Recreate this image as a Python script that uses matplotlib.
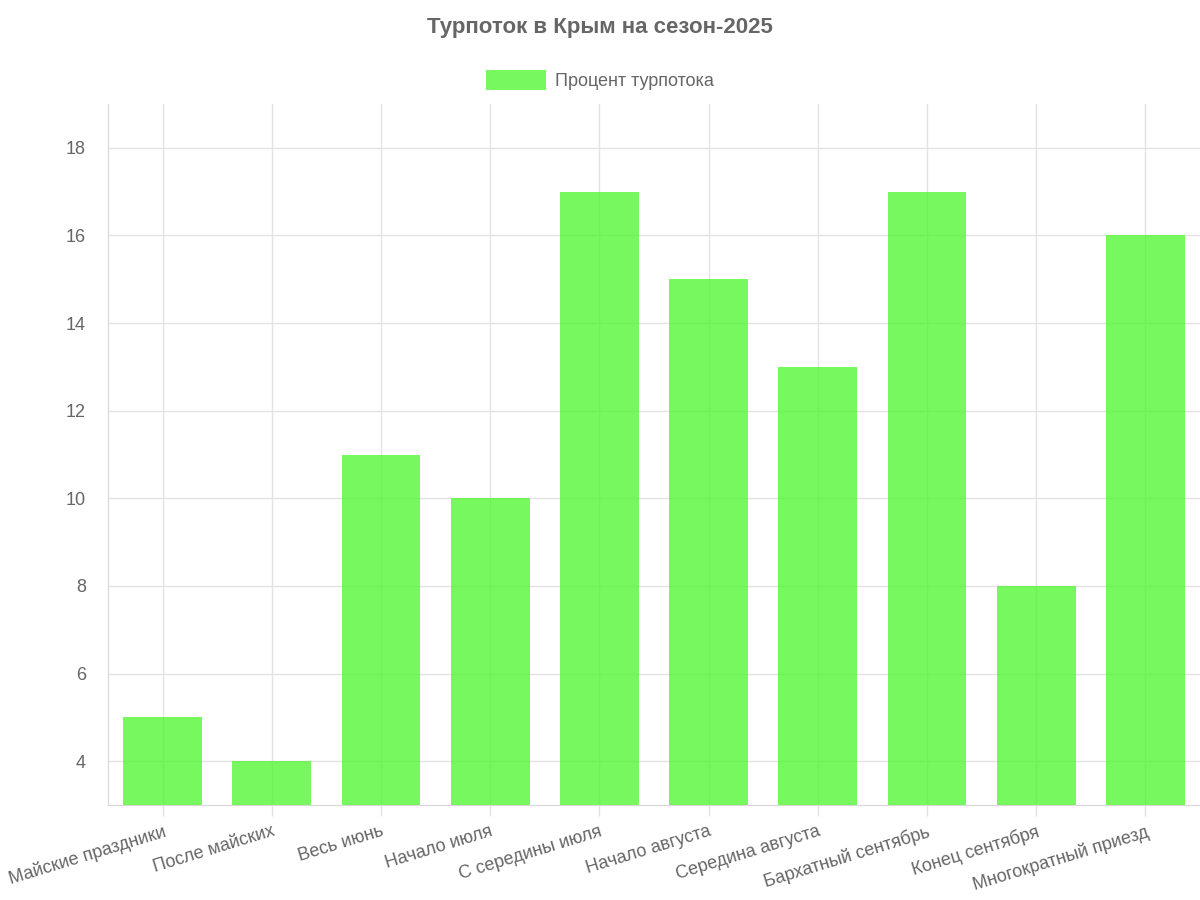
import matplotlib
matplotlib.use("Agg")
import matplotlib.pyplot as plt
from matplotlib.patches import Patch

plt.rcParams['font.family'] = ['Liberation Sans', 'DejaVu Sans']

categories = ["Майские праздники", "После майских", "Весь июнь", "Начало июля",
              "С середины июля", "Начало августа", "Середина августа",
              "Бархатный сентябрь", "Конец сентября", "Многократный приезд"]
values = [5, 4, 11, 10, 17, 15, 13, 17, 8, 16]
series_name = "Процент турпотока"
title = "Турпоток в Крым на сезон-2025"
yticks = [4, 6, 8, 10, 12, 14, 16, 18]

bar_color = (72/255, 246/255, 40/255, 0.75)
grid_color = '#e3e3e3'
text_color = '#666666'

fig = plt.figure(figsize=(12, 9), dpi=100)
ax = fig.add_axes([0.09, 0.1056, 0.91, 0.7788])

x = list(range(len(categories)))
ax.set_axisbelow(True)
ax.grid(True, color=grid_color, linewidth=1)
ax.bar(x, [v - 3 for v in values], bottom=3, width=0.72, color=bar_color, zorder=3)

ax.set_xlim(-0.5, len(categories) - 0.5)
ax.set_ylim(3, 19)
ax.set_yticks(yticks)
ax.set_xticks(x)
ax.set_xticklabels(categories, rotation=17, ha='right', rotation_mode='anchor')
ax.tick_params(axis='both', colors=grid_color, labelcolor=text_color, labelsize=13, length=8, width=1)
ax.tick_params(axis='y', length=0, pad=16)
ax.tick_params(axis='x', pad=5)
for s in ['top', 'right']:
    ax.spines[s].set_visible(False)
for s in ['left', 'bottom']:
    ax.spines[s].set_color('#d8d8d8')

fig.text(0.5, 1 - 27/900, title, ha='center', va='center', fontsize=16,
         fontweight='bold', color=text_color)
leg = fig.legend(handles=[Patch(facecolor=bar_color, edgecolor='none', label=series_name)],
                 loc='center', bbox_to_anchor=(0.5, 1 - 80/900), frameon=False,
                 fontsize=13, handlelength=3.3, handleheight=1.3, handletextpad=0.5)
for t in leg.get_texts():
    t.set_color(text_color)

fig.savefig("out.png", dpi=100)
